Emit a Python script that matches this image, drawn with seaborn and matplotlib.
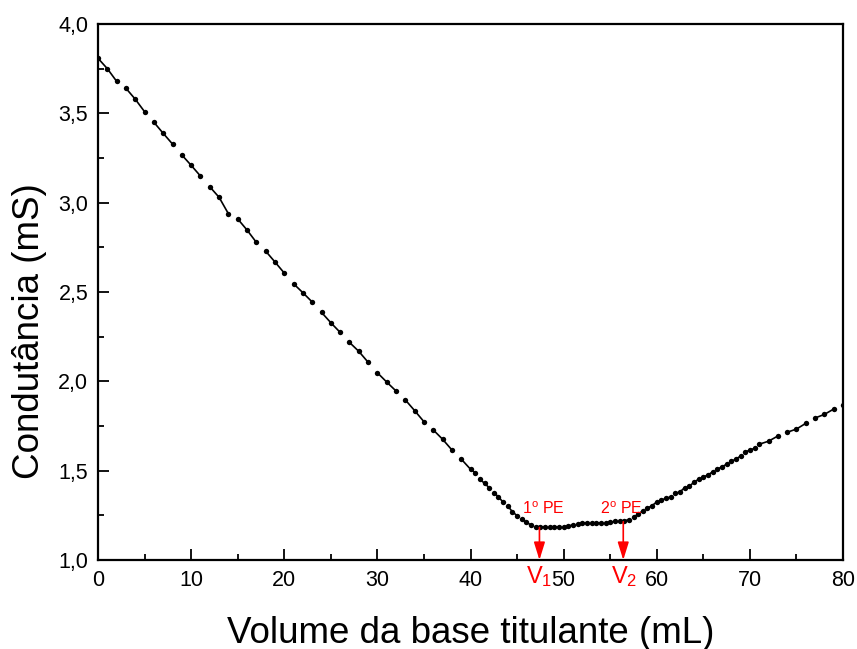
import numpy as np
import pandas as pd
import matplotlib
matplotlib.use("Agg")
import matplotlib.pyplot as plt
from matplotlib.ticker import MultipleLocator, FuncFormatter
import seaborn as sns

# ---- data ----
volume = ([float(v) for v in range(0, 41)]
          + [40.5 + 0.5 * i for i in range(62)]
          + [72.0, 73.0, 74.0, 75.0, 76.0, 77.0, 78.0, 79.0, 80.0])

cond_desc = [3.808, 3.750, 3.679, 3.640, 3.579, 3.509, 3.450, 3.388, 3.328, 3.267,
             3.209, 3.149, 3.089, 3.030, 2.938, 2.909, 2.847, 2.778, 2.729, 2.668,
             2.606, 2.546, 2.496, 2.444, 2.386, 2.328, 2.274, 2.218, 2.168, 2.107,
             2.048, 1.996, 1.946, 1.896, 1.836, 1.774, 1.728, 1.676, 1.616, 1.565,
             1.508]
cond_mid = [1.489, 1.453, 1.429, 1.405, 1.377, 1.354, 1.323, 1.302, 1.270, 1.248,
            1.229, 1.211, 1.196, 1.187, 1.186, 1.186, 1.186, 1.186, 1.186, 1.187,
            1.190, 1.197, 1.203, 1.207, 1.207, 1.208, 1.207, 1.208, 1.209, 1.212,
            1.216, 1.218, 1.219, 1.226, 1.240, 1.257, 1.275, 1.290, 1.305, 1.325,
            1.336, 1.345, 1.354, 1.373, 1.382, 1.405, 1.414, 1.435, 1.453, 1.465,
            1.476, 1.494, 1.508, 1.522, 1.536, 1.552, 1.565, 1.582, 1.604, 1.616,
            1.625, 1.648]
cond_end = [1.665, 1.694, 1.715, 1.733, 1.765, 1.795, 1.815, 1.845, 1.868]
conductance = cond_desc + cond_mid + cond_end

v1 = 47.4
v2 = 56.4
v1_y = 1.187
v2_y = 1.219

x_ticks = [0, 10, 20, 30, 40, 50, 60, 70, 80]
y_ticks = [1.0, 1.5, 2.0, 2.5, 3.0, 3.5, 4.0]

df = pd.DataFrame({"vol": volume, "cond": conductance})
df["grp"] = np.arange(len(df)) // 3

# ---- figure ----
sns.set_theme(style="white")
plt.rcParams["font.family"] = ["Liberation Sans", "DejaVu Sans"]
plt.rcParams["mathtext.fontset"] = "custom"
plt.rcParams["mathtext.rm"] = "Liberation Sans"
plt.rcParams["mathtext.it"] = "Liberation Sans"
plt.rcParams["text.color"] = "black"
plt.rcParams["axes.labelcolor"] = "black"

fig = plt.figure(figsize=(8.57, 6.49), dpi=100)
ax = fig.add_axes([0.1144, 0.1371, 0.9837 - 0.1144, 0.963 - 0.1371])

sns.lineplot(data=df, x="vol", y="cond", units="grp", estimator=None, sort=False,
             color="black", linewidth=1.2, ax=ax, legend=False)
sns.scatterplot(data=df, x="vol", y="cond", color="black", s=15, edgecolor="black",
                linewidth=0, ax=ax, legend=False, zorder=3)

ax.set_xlim(0, 80)
ax.set_ylim(1.0, 4.0)
ax.set_xticks(x_ticks)
ax.set_yticks(y_ticks)
ax.xaxis.set_minor_locator(MultipleLocator(5))
ax.yaxis.set_minor_locator(MultipleLocator(0.25))
ax.yaxis.set_major_formatter(FuncFormatter(lambda v, p: f"{v:.1f}".replace(".", ",")))
ax.xaxis.set_major_formatter(FuncFormatter(lambda v, p: f"{int(round(v))}"))

ax.tick_params(which="both", direction="in", top=False, right=False,
               bottom=True, left=True, width=1.3, colors="black")
ax.tick_params(which="major", length=8, labelsize=15.5, pad=7)
ax.tick_params(which="minor", length=4.5)

for s in ax.spines.values():
    s.set_linewidth(1.6)
    s.set_color("black")

ax.set_xlabel("Volume da base titulante (mL)", fontsize=26.5, labelpad=18, color="black")
ax.set_ylabel("Condutância (mS)", fontsize=26.5, color="black")
ax.yaxis.set_label_coords(-0.0685, 0.427)

red = "#ff0000"
for xv, yv in [(v1, v1_y), (v2, v2_y)]:
    ax.annotate("", xy=(xv, 1.0), xytext=(xv, yv - 0.005),
                arrowprops=dict(arrowstyle="-|>,head_length=0.9,head_width=0.28",
                                color=red, lw=1.2, shrinkA=0, shrinkB=0))

ax.text(47.8, 1.288, "1$^{\\rm o}$ PE", color=red, fontsize=11.5, ha="center", va="center")
ax.text(56.2, 1.288, "2$^{\\rm o}$ PE", color=red, fontsize=11.5, ha="center", va="center")
ax.text(v1, 0.905, "V$_1$", color=red, fontsize=17, ha="center", va="center", clip_on=False)
ax.text(v2 + 0.1, 0.905, "V$_2$", color=red, fontsize=17, ha="center", va="center", clip_on=False)

fig.savefig("out.png", dpi=100)
